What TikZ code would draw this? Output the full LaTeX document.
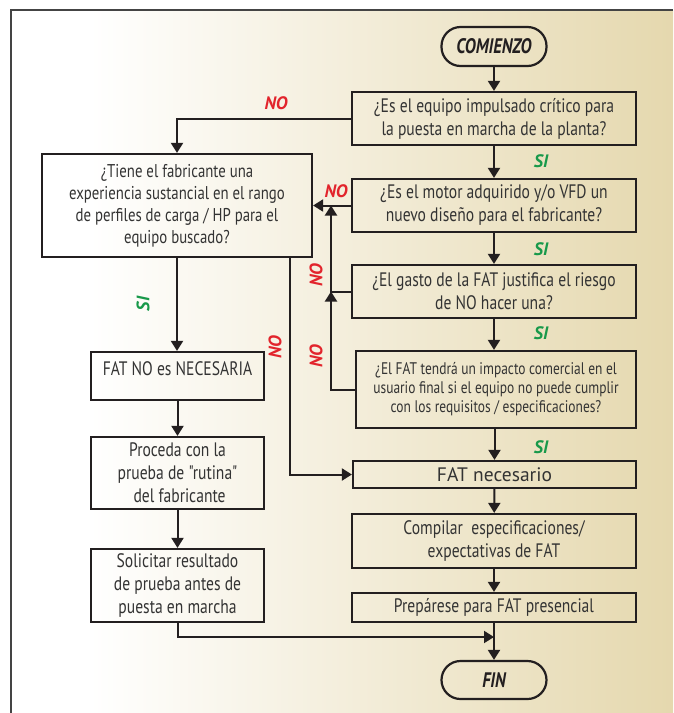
\documentclass[tikz,border=0pt]{standalone}
\usepackage{fontspec}
\setmainfont{PT Sans}[FakeStretch=0.8, Ligatures=TeXOff]
\newfontfamily\widefont{PT Sans}
\usetikzlibrary{arrows.meta}

\definecolor{ink}{HTML}{231F20}
\definecolor{txt}{HTML}{333333}
\definecolor{framec}{HTML}{444444}
\definecolor{nored}{HTML}{E2242C}
\definecolor{sigreen}{HTML}{18994A}
\definecolor{beige}{RGB}{229,216,174}

\begin{document}
\begin{tikzpicture}[x=1pt,y=-1pt,
  box/.style={draw=ink, line width=2.2pt, text=txt, align=center, inner sep=0pt,
    font=\fontsize{19.5}{23}\selectfont},
  pill/.style={draw=ink, line width=2.2pt, rounded corners=19pt, minimum width=105pt,
    minimum height=39pt, inner sep=0pt, text=ink,
    font=\fontsize{21}{22}\selectfont\bfseries\itshape},
  conn/.style={draw=ink, line width=2pt},
  arr/.style={conn, -{Triangle[length=10pt,width=12pt]}},
  nolab/.style={text=nored, inner sep=0pt, font=\widefont\fontsize{18}{18}\selectfont\bfseries\itshape},
  silab/.style={text=sigreen, inner sep=0pt, font=\widefont\fontsize{18}{18}\selectfont\bfseries\itshape},
]
\useasboundingbox (0,0) rectangle (673,713);

% page background and frame
\fill[white] (0,0) rectangle (673,713);
\shade[left color=white, right color=beige] (90,10) rectangle (673,713);
\draw[framec, line width=1.8pt] (11,713) -- (11,10) -- (673,10);

% right column
\node[pill] (start) at (494,46.5) {COMIENZO};
\node[box, minimum width=284pt, minimum height=53pt] (q1) at (494,118.5)
  {¿Es el equipo impulsado crítico para\\la puesta en marcha de la planta?};
\node[box, minimum width=284pt, minimum height=53pt] (q2) at (494,205.5)
  {¿Es el motor adquirido y/o VFD un\\nuevo diseño para el fabricante?};
\node[box, minimum width=284pt, minimum height=53pt] (q3) at (494,291.5)
  {¿El gasto de la FAT justifica el riesgo\\de NO hacer una?};
\node[box, minimum width=280pt, minimum height=77pt,
  font=\fontsize{16.8}{19}\selectfont] (q4) at (496,389.5)
  {¿El FAT tendrá un impacto comercial en el\\usuario final si el equipo no puede cumplir\\con los requisitos / especificaciones?};
\node[box, minimum width=283pt, minimum height=27pt,
  font=\widefont\fontsize{19.5}{20}\selectfont] (fatn) at (494.5,474.5) {FAT necesario};
\node[box, minimum width=284pt, minimum height=54pt] (comp) at (494,541)
  {Compilar\ \ especificaciones/\\expectativas de FAT};
\node[box, minimum width=284pt, minimum height=29pt] (prep) at (494,607.5)
  {Prepárese para FAT presencial};
\node[pill, minimum height=38pt] (fin) at (494,680) {FIN};

% left column
\node[box, minimum width=270pt, minimum height=103pt,
  font=\fontsize{18.5}{22}\selectfont] (L1) at (177,205.5)
  {¿Tiene el fabricante una\\experiencia sustancial en el rango\\de perfiles de carga / HP para el\\equipo buscado?};
\node[box, minimum width=173pt, minimum height=48pt, text height=13pt, text depth=15pt]
  (nofat) at (177.5,376) {FAT NO es NECESARIA};
\node[box, minimum width=173pt, minimum height=72pt] (proc) at (177.5,473)
  {Proceda con la\\prueba de "rutina"\\\ del fabricante};
\node[box, minimum width=173pt, minimum height=73pt] (solic) at (177.5,585.5)
  {Solicitar resultado\\de prueba antes de\\puesta en marcha};

% helper points for the return rail, the bypass line and the final merge
\coordinate (rail) at (331,0);
\coordinate (bypass) at (290,0);
\coordinate (merge) at (494,637);

% main "SI" chain
\draw[arr] (start) -- (q1);
\draw[arr] (q1) -- (q2);
\draw[arr] (q2) -- (q3);
\draw[arr] (q3) -- (q4.north -| q3.south);
\draw[arr] (q4.south -| fatn.north) -- (fatn);
\draw[arr] (fatn) -- (comp);
\draw[arr] (comp) -- (prep);
\draw[conn] (prep) -- (merge);
\draw[arr] (merge) -- (fin);

% "NO" branches
\draw[arr] (q1.west) -| (L1.north);
\draw[arr] (q2.west) -- (L1.east);
\draw[arr] (q3.west) -| (rail |- q2.west);
\draw[arr] (q4.west) -| (rail |- q3.west);
\draw[arr] (bypass |- L1.south) |- (fatn.west);

% left column chain
\draw[arr] (L1.south) -- (nofat.north -| L1.south);
\draw[arr] (nofat) -- (proc);
\draw[arr] (proc) -- (solic);
\draw[arr] (solic.south) |- (merge);

% branch labels
\node[nolab] at (276,103) {NO};
\node[nolab] at (336,191) {NO};
\node[nolab, rotate=90] at (316,275) {NO};
\node[nolab, rotate=90] at (316,356) {NO};
\node[nolab, rotate=90] at (275,347) {NO};
\node[silab] at (541,161) {SI};
\node[silab] at (541,249) {SI};
\node[silab] at (541,333) {SI};
\node[silab] at (541,447) {SI};
\node[silab, rotate=90] at (143,304) {SI};
\end{tikzpicture}
\end{document}
